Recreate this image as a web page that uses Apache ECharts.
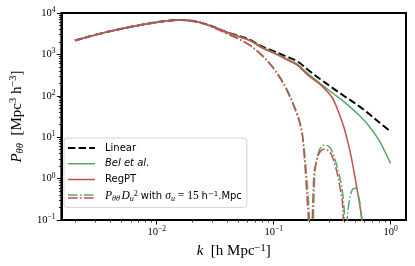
<!DOCTYPE html>
<html>
<head>
<meta charset="utf-8">
<script src="https://cdn.jsdelivr.net/npm/echarts@6/dist/echarts.min.js"></script>
<style>
html,body{margin:0;padding:0;background:#fff;}
#chart{width:415px;height:266px;}
</style>
</head>
<body>
<div id="chart"></div>
<script>
// ---- data (k in h/Mpc, P in Mpc^3 h^-3) ----
const kLinear = [0.002, 0.00316, 0.00501, 0.00794, 0.0126, 0.0158, 0.0200, 0.0251, 0.0316, 0.0398, 0.0501, 0.0631, 0.0794, 0.100, 0.126, 0.158, 0.200, 0.251, 0.316, 0.398, 0.501, 0.631, 0.794, 1.0];
const pLinear = [2160, 3090, 4170, 5370, 6530, 6760, 6460, 5620, 4470, 3430, 2820, 2240, 1550, 1200, 912, 692, 407, 251, 158, 100, 64.6, 39.8, 23.2, 13.6];

const kBel = [0.002, 0.00316, 0.00501, 0.00794, 0.0126, 0.0158, 0.0200, 0.0251, 0.0316, 0.0398, 0.0501, 0.0631, 0.0794, 0.100, 0.126, 0.158, 0.200, 0.251, 0.316, 0.398, 0.501, 0.631, 0.794, 0.891, 1.0];
const pBel = [2160, 3090, 4170, 5370, 6530, 6760, 6460, 5620, 4470, 3430, 2750, 2190, 1500, 1120, 813, 589, 329, 197, 118.6, 72.3, 41.0, 21.2, 8.6, 4.57, 2.34];

const kRegPT = [0.002, 0.00316, 0.00501, 0.00794, 0.0126, 0.0158, 0.0200, 0.0251, 0.0316, 0.0398, 0.0501, 0.0631, 0.0794, 0.100, 0.126, 0.158, 0.200, 0.251, 0.316, 0.355, 0.398, 0.427, 0.454, 0.484, 0.513, 0.543, 0.569, 0.582, 0.596];
const pRegPT = [2160, 3090, 4170, 5370, 6530, 6760, 6460, 5620, 4470, 3430, 2690, 2140, 1445, 1070, 776, 556, 302, 186, 91.2, 43.7, 17.9, 8.5, 4.08, 1.61, 0.63, 0.25, 0.1, 0.05, 0.01];

const kBelD = [0.002, 0.00316, 0.00501, 0.00794, 0.0126, 0.0158, 0.0200, 0.0251, 0.0316, 0.0398, 0.0501, 0.0631, 0.0794, 0.100, 0.126, 0.158, 0.174, 0.182, 0.191, 0.200, 0.2065, 0.213, 0.2188, 0.2265, 0.240, 0.257, 0.279, 0.302, 0.324, 0.361, 0.389, 0.403, 0.411, 0.422, 0.440, 0.469, 0.500, 0.533, 0.556, 0.569, 0.582];
const pBelD = [2160, 3090, 4170, 5370, 6500, 6700, 6350, 5500, 4300, 3200, 2400, 1660, 977, 468, 170, 39.8, 15.1, 5.62, 1.26, 0.2, 0.032, 0.001, 0.1, 1.58, 3.98, 6.03, 6.49, 5.62, 3.8, 1.34, 0.447, 0.126, 0.001, 0.063, 0.253, 0.531, 0.583, 0.366, 0.178, 0.079, 0.001];

const kRegPTD = [0.002, 0.00316, 0.00501, 0.00794, 0.0126, 0.0158, 0.0200, 0.0251, 0.0316, 0.0398, 0.0501, 0.0631, 0.0794, 0.100, 0.126, 0.158, 0.174, 0.182, 0.191, 0.200, 0.208, 0.213, 0.218, 0.222, 0.232, 0.245, 0.257, 0.270, 0.288, 0.308, 0.327, 0.350, 0.367, 0.385, 0.394, 0.398];
const pRegPTD = [2160, 3090, 4170, 5370, 6500, 6700, 6350, 5500, 4270, 3160, 2340, 1620, 933, 447, 158, 35.5, 13.2, 3.98, 0.56, 0.063, 0.001, 0.063, 0.5, 1.36, 2.63, 4.08, 4.79, 5.1, 4.9, 4.08, 2.63, 1.34, 0.676, 0.304, 0.1, 0.001];

// ---- tick values ----
const xMajorTicks = [0.01, 0.1, 1];
const xMinorTicks = [0.002, 0.003, 0.004, 0.005, 0.006, 0.007, 0.008, 0.009, 0.02, 0.03, 0.04, 0.05, 0.06, 0.07, 0.08, 0.09, 0.2, 0.3, 0.4, 0.5, 0.6, 0.7, 0.8, 0.9];
const yMajorTicks = [0.1, 1, 10, 100, 1000, 10000];
const yMinorTicks = [0.2, 0.3, 0.4, 0.5, 0.6, 0.7, 0.8, 0.9, 2, 3, 4, 5, 6, 7, 8, 9, 20, 30, 40, 50, 60, 70, 80, 90, 200, 300, 400, 500, 600, 700, 800, 900, 2000, 3000, 4000, 5000, 6000, 7000, 8000, 9000];

const names = { lin: 'Linear', bel: 'Bel et al.', reg: 'RegPT', damp: 'PθθDu² with σu = 15 h⁻¹.Mpc' };

// ---- styling ----
const BLACK = '#000000', GREEN = '#55a868', RED = '#c44e52';
const SERIF = 'Liberation Serif', SANS = 'DejaVu Sans';
const xMin = 0.00153, xMax = 1.355;

function pow10Label(v) {
  const e = Math.round(Math.log10(v));
  const s = e < 0 ? '\u2212' + (-e) : String(e);
  return '{b|10}{s|' + s + '}';
}
const tickRich = {
  b: { fontFamily: SERIF, fontSize: 10.5, lineHeight: 14, color: BLACK },
  s: { fontFamily: SERIF, fontSize: 7.5, lineHeight: 8, verticalAlign: 'top', color: BLACK }
};
const nameRich = {
  mi: { fontFamily: SERIF, fontStyle: 'italic', fontSize: 15, lineHeight: 18, color: BLACK },
  t: { fontFamily: SERIF, fontSize: 15, lineHeight: 18, color: BLACK },
  sub: { fontFamily: SERIF, fontStyle: 'italic', fontSize: 10.5, lineHeight: 10, verticalAlign: 'bottom', color: BLACK },
  sup: { fontFamily: SERIF, fontSize: 10.5, lineHeight: 10, verticalAlign: 'top', color: BLACK }
};
const legendRich = {
  g: { width: 5, fontSize: 10, lineHeight: 12 },
  hs: { width: 1.5, fontSize: 10, lineHeight: 12 },
  t: { fontFamily: SANS, fontSize: 10, lineHeight: 12, color: BLACK },
  it: { fontFamily: SANS, fontStyle: 'italic', fontSize: 10, lineHeight: 12, color: BLACK },
  mi: { fontFamily: SERIF, fontStyle: 'italic', fontSize: 11.5, lineHeight: 12, color: BLACK },
  mr: { fontFamily: SERIF, fontSize: 11.5, lineHeight: 12, color: BLACK },
  sub: { fontFamily: SERIF, fontStyle: 'italic', fontSize: 8, lineHeight: 6, verticalAlign: 'bottom', color: BLACK },
  sup: { fontFamily: SERIF, fontSize: 8, lineHeight: 6, verticalAlign: 'top', color: BLACK },
  ts: { fontFamily: SANS, fontSize: 7, lineHeight: 6, verticalAlign: 'top', color: BLACK }
};
const legendText = {};
legendText[names.lin] = '{g| }{t|Linear}';
legendText[names.bel] = '{g| }{it|Bel et al.}';
legendText[names.reg] = '{g| }{t|RegPT}';
legendText[names.damp] = '{g| }{mi|P}{sub|θθ}{hs| }{mi|D}{sub|u}{sup|2}{t| with }{mi|σ}{sub|u}{mr| = 15 }{t|h}{ts|\u22121}{t|.Mpc}';

function svgIcon(body) {
  return 'image://data:image/svg+xml;charset=utf-8,' + encodeURIComponent(
    "<svg xmlns='http://www.w3.org/2000/svg' width='27' height='8' viewBox='0 0 27 8'>" + body + "</svg>");
}
const iconLin = svgIcon("<line x1='0' y1='4' x2='27' y2='4' stroke='#000' stroke-width='2' stroke-dasharray='7.4 3.2'/>");
const iconBel = svgIcon("<line x1='0' y1='4' x2='27' y2='4' stroke='" + GREEN + "' stroke-width='1.5'/>");
const iconReg = svgIcon("<line x1='0' y1='4' x2='27' y2='4' stroke='" + RED + "' stroke-width='1.5'/>");
const iconDamp = svgIcon("<line x1='0' y1='2.6' x2='27' y2='2.6' stroke='" + GREEN + "' stroke-width='1.5' stroke-dasharray='9.6 2.4 1.5 2.4'/>" +
                         "<line x1='0' y1='5.6' x2='27' y2='5.6' stroke='" + RED + "' stroke-width='1.5' stroke-dasharray='9.6 2.4 1.5 2.4'/>");

function pairs(ks, ps) { return ks.map((k, i) => [k, ps[i]]); }
function lineSeries(name, ks, ps, color, width, dash, z) {
  return {
    type: 'line', name: name, data: pairs(ks, ps), xAxisIndex: 0, yAxisIndex: 0,
    symbol: 'none', showSymbol: false, smooth: 0.35, clip: true, silent: true, z: z,
    lineStyle: { color: color, width: width, type: dash },
    itemStyle: { color: color },
    emphasis: { disabled: true }
  };
}

const chart = echarts.init(document.getElementById('chart'), null, { renderer: 'canvas', width: 415, height: 266 });
chart.setOption({
  animation: false,
  backgroundColor: '#ffffff',
  grid: { left: 58, top: 13, right: 9, bottom: 46, show: true, borderColor: BLACK, borderWidth: 2, backgroundColor: 'transparent' },
  xAxis: [
    {
      type: 'log', logBase: 10, min: xMin, max: xMax,
      axisLine: { show: true, lineStyle: { color: BLACK, width: 2 } },
      axisTick: { show: true, customValues: xMajorTicks, length: 4.5, lineStyle: { color: BLACK, width: 1 } },
      axisLabel: { customValues: xMajorTicks, formatter: pow10Label, rich: tickRich, margin: 5 },
      splitLine: { show: false },
      name: '{mi|k}{t|  [h Mpc}{sup|\u22121}{t|]}',
      nameLocation: 'middle', nameGap: 18,
      nameTextStyle: { rich: nameRich }
    },
    {
      type: 'log', logBase: 10, min: xMin, max: xMax, position: 'bottom',
      axisLine: { show: false },
      axisTick: { show: true, customValues: xMinorTicks, length: 2.5, lineStyle: { color: BLACK, width: 0.8 } },
      axisLabel: { show: false },
      splitLine: { show: false }
    }
  ],
  yAxis: [
    {
      type: 'log', logBase: 10, min: 0.1, max: 10000,
      axisLine: { show: true, lineStyle: { color: BLACK, width: 2 } },
      axisTick: { show: true, customValues: yMajorTicks, length: 4.5, lineStyle: { color: BLACK, width: 1 } },
      axisLabel: { customValues: yMajorTicks, formatter: pow10Label, rich: tickRich, margin: 6 },
      splitLine: { show: false },
      name: '{mi|P}{sub|θθ}{t|  [Mpc}{sup|3}{t| h}{sup|\u22123}{t|]}',
      nameLocation: 'middle', nameGap: 33, nameRotate: 90,
      nameTextStyle: { rich: nameRich }
    },
    {
      type: 'log', logBase: 10, min: 0.1, max: 10000, position: 'left',
      axisLine: { show: false },
      axisTick: { show: true, customValues: yMinorTicks, length: 2.5, lineStyle: { color: BLACK, width: 0.8 } },
      axisLabel: { show: false },
      splitLine: { show: false }
    }
  ],
  legend: {
    left: 64, top: 138, orient: 'vertical', padding: [5, 5, 5, 4], itemGap: 5.8,
    itemWidth: 27, itemHeight: 8, symbolKeepAspect: false, selectedMode: false,
    backgroundColor: 'rgba(255,255,255,0.85)', borderColor: '#d4d4d4', borderWidth: 1, borderRadius: 3,
    data: [
      { name: names.lin, icon: iconLin },
      { name: names.bel, icon: iconBel },
      { name: names.reg, icon: iconReg },
      { name: names.damp, icon: iconDamp }
    ],
    formatter: function (n) { return legendText[n]; },
    textStyle: { rich: legendRich }
  },
  series: [
    lineSeries(names.lin, kLinear, pLinear, BLACK, 2, [7.4, 3.2], 2),
    lineSeries(names.bel, kBel, pBel, GREEN, 1.5, 'solid', 3),
    lineSeries(names.reg, kRegPT, pRegPT, RED, 1.5, 'solid', 4),
    lineSeries(names.damp, kBelD, pBelD, GREEN, 1.5, [9.6, 2.4, 1.5, 2.4], 5),
    lineSeries(names.damp, kRegPTD, pRegPTD, RED, 1.5, [9.6, 2.4, 1.5, 2.4], 6)
  ]
});
</script>
</body>
</html>
